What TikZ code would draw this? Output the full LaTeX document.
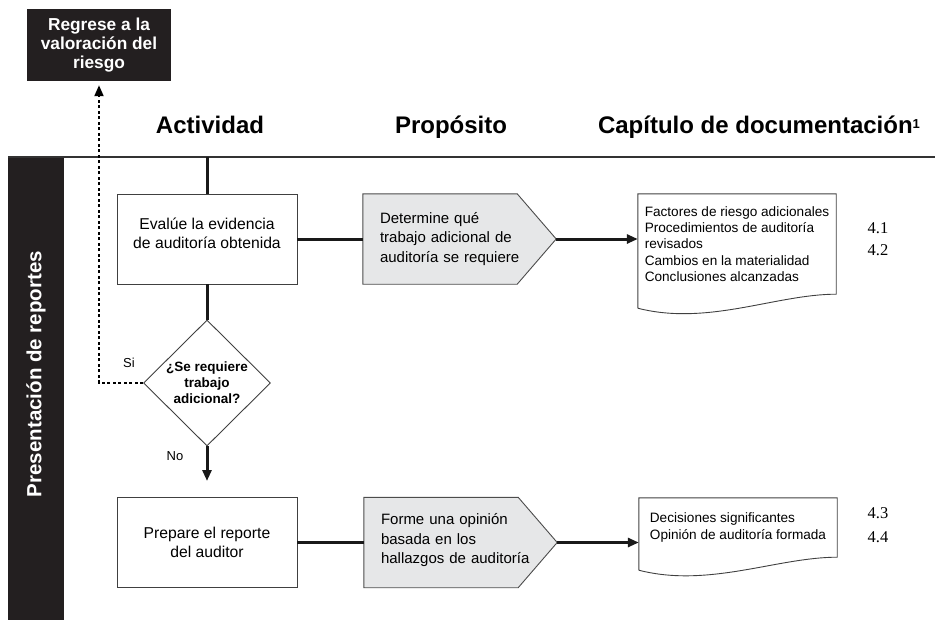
\documentclass[tikz,border=0pt]{standalone}
\usepackage{fontspec}
\setmainfont{Liberation Sans}
\newfontfamily\numfont{Liberation Serif}
\usetikzlibrary{arrows.meta,shapes.geometric,calc,backgrounds}
\definecolor{inkblack}{HTML}{231F20}
\definecolor{pentfill}{HTML}{E6E7E8}
\begin{document}
\begin{tikzpicture}[x=1pt,y=-1pt,
  flow/.style={line width=3pt, black!90},
  arr/.style={flow, -{Triangle[length=11pt,width=9pt]}},
  dashedarrow/.style={line width=2pt, dash pattern=on 3pt off 2.5pt, -{Triangle[length=11pt,width=9pt]}},
  procbox/.style={draw=black!75, line width=0.9pt, minimum width=180pt, minimum height=90pt, inner sep=0pt, align=center, font=\fontsize{15.7}{19}\selectfont},
  pentnode/.style={minimum width=193pt, minimum height=90pt, inner sep=0pt, text width=159pt, align=left, font=\fontsize{15}{19.5}\selectfont},
  pentshape/.style={fill=pentfill, draw=black!70, line width=0.9pt},
  docnode/.style={inner sep=0pt, minimum width=198pt, align=left, font=\fontsize{13.6}{16.4}\selectfont},
  docshape/.style={draw=black!75, line width=0.9pt},
  blackbox/.style={fill=inkblack, text=white, font=\bfseries\fontsize{17.3}{19}\selectfont, align=center, minimum width=144pt, minimum height=72pt, inner sep=0pt},
  header/.style={font=\bfseries\fontsize{24}{28}\selectfont, inner sep=0pt, anchor=base},
  decision/.style={diamond, draw=black!75, line width=0.9pt, fill=white, inner sep=0pt, minimum width=127pt, minimum height=126pt, align=center, font=\bfseries\fontsize{13.5}{16}\selectfont},
  smalllbl/.style={font=\fontsize{13}{15}\selectfont, inner sep=0pt},
  chapnum/.style={font=\numfont\fontsize{16.5}{20}\selectfont, inner sep=0pt}
]
\useasboundingbox (0,0) rectangle (935,621);

% header line and band
\coordinate (hl) at (8,157);
\coordinate (hr) at (935,157);
\coordinate (vtop) at (207,157);
\draw[line width=2.5pt, black!80] (hl) -- (hr);
\node[fill=inkblack, anchor=north west, minimum width=56pt, minimum height=462pt, inner sep=0pt] (band) at (8,158) {};
\node[rotate=90, text=white, font=\bfseries\fontsize{20.5}{24}\selectfont, inner sep=0pt] (bandlabel) at (36,374) {Presentación de reportes};

% headers
\node[header] (hact) at (210,133) {Actividad};
\node[header] (hprop) at (451,133) {Propósito};
\node[header] (hcap) at (759,133) {Capítulo de documentación\raisebox{5pt}{\fontsize{13}{13}\selectfont 1}};

% return box
\node[blackbox] (regrese) at (99,45) {Regrese a la\\valoración del\\riesgo};

% row 1
\node[procbox] (box1) at (207,239) {Evalúe la evidencia\\de auditoría obtenida\\[-8pt]\mbox{}};
\node[pentnode] (pent1) at (459.5,239) {Determine qué\\trabajo adicional de\\auditoría se requiere};
\node[docnode, minimum height=100pt] (doc1) at (737,244) {Factores de riesgo adicionales\\Procedimientos de auditoría\\revisados\\Cambios en la materialidad\\Conclusiones alcanzadas};
\node[chapnum] (n41) at (878,228) {4.1};
\node[chapnum] (n42) at (878,250) {4.2};

% decision
\node[decision] (dec) at (207,383) {¿Se requiere\\trabajo\\adicional?};
\node[smalllbl] (si) at (129,363) {Si};
\node[smalllbl] (no) at (175,456) {No};
\coordinate (noend) at (207,481);

% row 2
\node[procbox] (box2) at (207,542.5) {Prepare el reporte\\del auditor};
\node[pentnode] (pent2) at (460.5,542.5) {Forme una opinión\\basada en los\\hallazgos de auditoría\\[-12pt]\mbox{}};
\node[docnode, minimum height=59pt] (doc2) at (738,527.5) {Decisiones significantes\\Opinión de auditoría formada};
\node[chapnum] (n43) at (878,513) {4.3};
\node[chapnum] (n44) at (878,537) {4.4};

% shapes behind text
\begin{scope}[on background layer]
  \draw[pentshape] (pent1.north west) -- ($(pent1.north east)+(-39,0)$) -- (pent1.east) -- ($(pent1.south east)+(-39,0)$) -- (pent1.south west) -- cycle;
  \draw[pentshape] (pent2.north west) -- ($(pent2.north east)+(-39,0)$) -- (pent2.east) -- ($(pent2.south east)+(-39,0)$) -- (pent2.south west) -- cycle;
  \draw[docshape] ($(doc1.south west)+(0,14)$) -- (doc1.north west) -- (doc1.north east) -- (doc1.south east)
     .. controls ($(doc1.south east)+(-60,0)$) and ($(doc1.south west)+(70,32)$) .. ($(doc1.south west)+(0,14)$);
  \draw[docshape] ($(doc2.south west)+(0,13)$) -- (doc2.north west) -- (doc2.north east) -- (doc2.south east)
     .. controls ($(doc2.south east)+(-60,0)$) and ($(doc2.south west)+(70,31)$) .. ($(doc2.south west)+(0,13)$);
\end{scope}

% connectors
\draw[flow] (vtop) -- (box1.north);
\draw[flow] (box1.south) -- (dec.north);
\draw[arr] (dec.south) -- (noend);
\draw[flow] (box1.east) -- (pent1.west);
\draw[arr] (pent1.east) -- (pent1.east -| doc1.west);
\draw[flow] (box2.east) -- (pent2.west);
\draw[arr] (pent2.east) -- (pent2.east -| doc2.west);
\draw[dashedarrow, shorten >=4pt] (dec.west) -| (regrese.south);
\end{tikzpicture}
\end{document}
